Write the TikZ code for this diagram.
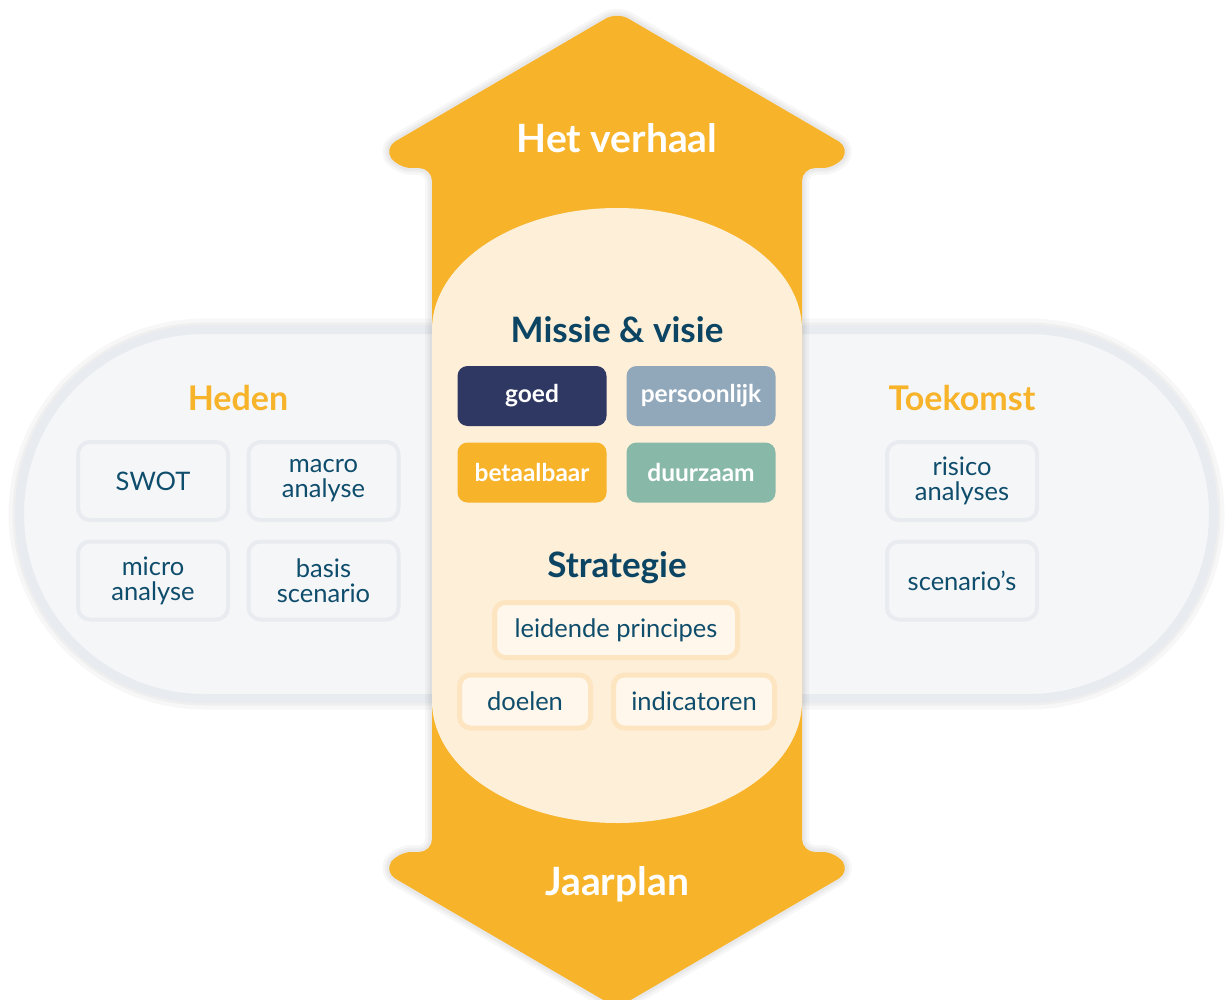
\documentclass[tikz,border=0pt]{standalone}
\usepackage{fontspec}
\setmainfont{Lato}
\definecolor{amber}{HTML}{F7B32A}
\definecolor{cream}{HTML}{FEEFD9}
\definecolor{pillfill}{HTML}{F5F6F8}
\definecolor{pillline}{HTML}{E8EBF0}
\definecolor{ink}{HTML}{0F4D6C}
\definecolor{inkdark}{HTML}{0B4563}
\definecolor{navy}{HTML}{2E3862}
\definecolor{slate}{HTML}{91A8BB}
\definecolor{sage}{HTML}{88B8A8}
\definecolor{peachline}{HTML}{FDE5C2}
\definecolor{peachfill}{HTML}{FFF7EB}
\begin{document}
\begin{tikzpicture}[x=1pt,y=-1pt,
  heading/.style={anchor=base,font=\fontsize{35}{40}\selectfont\bfseries},
  graybox/.style={draw=pillline,fill=pillfill,line width=4pt,rounded corners=12pt,
    minimum width=150pt,minimum height=78pt,inner sep=0pt,align=center,text=ink,
    font=\fontsize{25.5}{25}\selectfont},
  valuebox/.style={rounded corners=10pt,minimum width=149pt,minimum height=60pt,inner sep=0pt,
    text=white,font=\fontsize{24.5}{26}\selectfont\bfseries},
  peachbox/.style={draw=peachline,fill=peachfill,line width=5pt,rounded corners=11pt,
    minimum height=53pt,inner sep=0pt,text=ink,font=\fontsize{25.5}{26}\selectfont},
  halo/.style={draw=black,draw opacity=0.03,fill=none,line join=round}]
\useasboundingbox (0,0) rectangle (1230,1000);
\clip (0,0) rectangle (1230,1000);

% background band with soft shadow
\foreach \w in {22,14,8}
  \draw[halo,line width=\w pt,rounded corners=185pt] (19.5,329.5) rectangle (1213.5,698.5);
\draw[fill=pillfill,draw=pillline,line width=9pt,rounded corners=185pt]
  (19.5,329.5) rectangle (1213.5,698.5);

% double arrow
\def\arrowpath{(432,168) -- (398,168) -- (384,148) -- (617,12) -- (850,148) -- (836,168)
  -- (802,168) -- (802,852) -- (836,852) -- (850,872) -- (617,1008) -- (384,872)
  -- (398,852) -- (432,852) -- cycle}
\foreach \w in {14,9,5}
  \draw[halo,line width=\w pt,rounded corners=13pt] \arrowpath;
\fill[amber,rounded corners=13pt] \arrowpath;

% central cream shape
\fill[cream] (432,330) arc[start angle=180,end angle=360,x radius=185,y radius=122]
  -- (802,701) arc[start angle=0,end angle=180,x radius=185,y radius=122] -- cycle;

% headings
\node[heading,text=white,font=\fontsize{39}{42}\selectfont\bfseries] (verhaal) at (617,153) {Het verhaal};
\node[heading,text=white,font=\fontsize{39}{42}\selectfont\bfseries] (jaarplan) at (617,895) {Jaarplan};
\node[heading,text=inkdark] (missie) at (617,342) {Missie \& visie};
\node[heading,text=inkdark] (strategie) at (617,577) {Strategie};
\node[heading,text=amber,font=\fontsize{34}{38}\selectfont\bfseries] (heden) at (238,410) {Heden};
\node[heading,text=amber,font=\fontsize{34}{38}\selectfont\bfseries] (toekomst) at (962,410) {Toekomst};

% present
\node[graybox] (swot) at (153,481) {SWOT};
\node[graybox] (macro) at (323.5,481) {macro\\analyse};
\node[graybox] (micro) at (153,580.5) {micro\\analyse};
\node[graybox] (basis) at (323.5,580.5) {basis\\scenario};

% future
\node[graybox] (risico) at (962,481) {risico\\analyses};
\node[graybox] (scen) at (962,580.5) {scenario’s};

% values
\node[valuebox,fill=navy] (goed) at (532,396) {goed};
\node[valuebox,fill=slate] (pers) at (701,396) {persoonlijk};
\node[valuebox,fill=amber] (betaal) at (532,472.5) {betaalbaar};
\node[valuebox,fill=sage] (duur) at (701,472.5) {duurzaam};

% strategy
\node[peachbox,minimum width=243pt,minimum height=55pt] (leid) at (616,630) {leidende principes};
\node[peachbox,minimum width=131pt] (doel) at (525,701.5) {doelen};
\node[peachbox,minimum width=161pt] (indi) at (694,701.5) {indicatoren};
\end{tikzpicture}
\end{document}
